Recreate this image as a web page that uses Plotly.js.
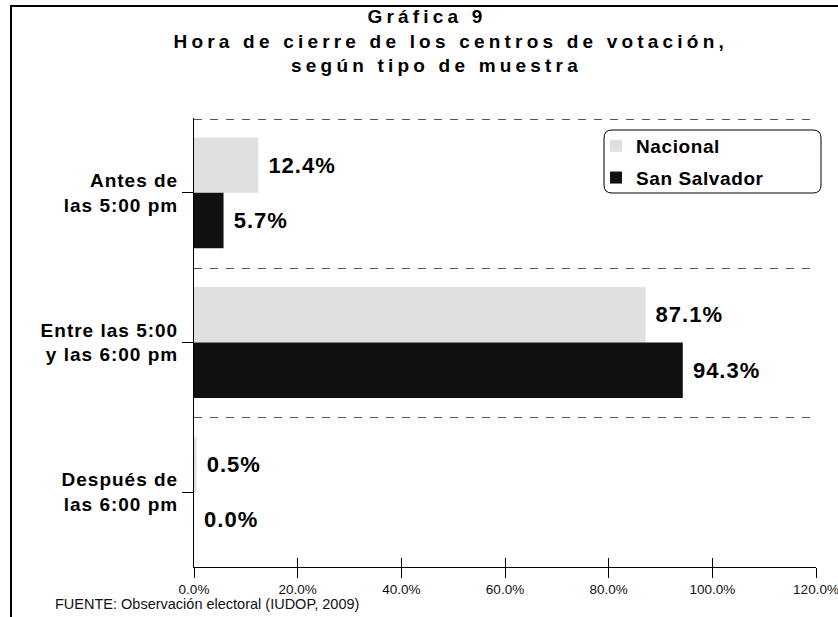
<!DOCTYPE html>
<html>
<head>
<meta charset="utf-8">
<script src="https://cdn.plot.ly/plotly-3.0.1.min.js"></script>
<style>
  html, body { margin: 0; padding: 0; background: #fff; overflow: hidden; }
  #chart { width: 838px; height: 617px; }
  .gtitle { letter-spacing: 4.2px; }
  .ytick text { letter-spacing: 1px; }
  .bartext { letter-spacing: 1px; }
  .legendtext { letter-spacing: 0.6px; }
</style>
</head>
<body>
<div id="chart"></div>
<script>
// ---- data ----
const categories = ['Antes de<br>las 5:00 pm', 'Entre las 5:00<br>y las 6:00 pm', 'Después de<br>las 6:00 pm'];
const nacional = [12.4, 87.1, 0.5];
const sanSalvador = [5.7, 94.3, 0.0];
const seriesNames = ['Nacional', 'San Salvador'];
const xTickValues = [0, 20, 40, 60, 80, 100, 120];
const xTickLabels = ['0.0%', '20.0%', '40.0%', '60.0%', '80.0%', '100.0%', '120.0%'];
const titleLines = ['Gráfica 9\u00a0\u00a0\u00a0\u00a0', '\u00a0Hora de cierre de los centros de votación,', 'según tipo de muestra\u00a0\u00a0'];
const sourceText = 'FUENTE: Observación electoral (IUDOP, 2009)';

const FONT = 'Liberation Sans, Arial, sans-serif';

// plot area in pixels
const L = 194, R = 816, T = 118, B = 567;
const W = R - L, H = B - T;
const px = v => (v - L) / W;
const py = v => (B - v) / H;

function roundRect(x0, y0, x1, y1, r) {
  const X0 = px(x0), X1 = px(x1), Yt = py(y0), Yb = py(y1);
  const rx = r / W, ry = r / H;
  return `M${X0+rx},${Yt} L${X1-rx},${Yt} Q${X1},${Yt} ${X1},${Yt-ry} ` +
         `L${X1},${Yb+ry} Q${X1},${Yb} ${X1-rx},${Yb} L${X0+rx},${Yb} ` +
         `Q${X0},${Yb} ${X0},${Yb+ry} L${X0},${Yt-ry} Q${X0},${Yt} ${X0+rx},${Yt} Z`;
}

const labelFont = {family: FONT, size: 22, color: '#000', weight: 700};

const traces = [
  {
    type: 'bar', orientation: 'h', name: seriesNames[0],
    x: nacional, y: categories,
    marker: {color: '#e0e0e0', line: {width: 0}},
    texttemplate: '\u00a0%{x:.1f}%', textposition: 'outside', textangle: 0,
    textfont: labelFont, cliponaxis: false, constraintext: 'none',
    legendgroup: 'a', hoverinfo: 'skip'
  },
  {
    type: 'bar', orientation: 'h', name: seriesNames[1],
    x: sanSalvador, y: categories,
    marker: {color: '#111111', line: {width: 0}},
    texttemplate: '\u00a0%{x:.1f}%', textposition: 'outside', textangle: 0,
    textfont: labelFont, cliponaxis: false, constraintext: 'none',
    legendgroup: 'b', hoverinfo: 'skip'
  },
  // empty helper traces so the overlay axes (dashed separators, crossing ticks) are built
  {type: 'scatter', mode: 'markers', x: [], y: [], xaxis: 'x', yaxis: 'y2', showlegend: false, hoverinfo: 'skip'},
  {type: 'scatter', mode: 'markers', x: [], y: [], xaxis: 'x2', yaxis: 'y', showlegend: false, hoverinfo: 'skip'}
];

const layout = {
  width: 838, height: 617,
  margin: {l: L, r: 838 - R, t: T, b: 617 - B, pad: 0},
  paper_bgcolor: '#fff', plot_bgcolor: 'rgba(0,0,0,0)',
  font: {family: FONT, color: '#000'},
  title: {
    text: '<b>' + titleLines.join('<br>') + '</b>',
    font: {family: FONT, size: 19, color: '#000', weight: 700},
    x: 446 / 838, xanchor: 'center', xref: 'container',
    y: 1 - 23 / 617, yanchor: 'top', yref: 'container'
  },
  barmode: 'group', bargap: 0.26, bargroupgap: 0,
  showlegend: true,
  legend: {
    x: px(596), xanchor: 'left', y: py(127), yanchor: 'top',
    bgcolor: 'rgba(0,0,0,0)', borderwidth: 0,
    font: {family: FONT, size: 19, color: '#000', weight: 700},
    traceorder: 'grouped', tracegroupgap: 4
  },
  xaxis: {
    range: [0, 120], tickvals: xTickValues, ticktext: xTickLabels,
    ticks: 'outside', ticklen: 10, tickwidth: 1, tickcolor: '#000',
    showline: true, linecolor: '#000', linewidth: 1,
    showgrid: false, zeroline: false, ticklabeloverflow: 'allow',
    tickfont: {family: FONT, size: 13.5, color: '#111'}
  },
  xaxis2: {
    overlaying: 'x', anchor: 'y', range: [0, 120], tickvals: xTickValues,
    ticks: 'inside', ticklen: 9, tickwidth: 1, tickcolor: '#000',
    showticklabels: false, showgrid: false, showline: false, zeroline: false, side: 'bottom'
  },
  yaxis: {
    autorange: 'reversed', type: 'category',
    ticks: 'outside', ticklen: 11, tickwidth: 1, tickcolor: '#000',
    showline: true, linecolor: '#000', linewidth: 1,
    showgrid: false, zeroline: false,
    tickfont: {family: FONT, size: 19, color: '#000', weight: 700}
  },
  yaxis2: {
    overlaying: 'y', anchor: 'x', range: [0, 3.008], tickvals: [1, 2, 3],
    showgrid: true, gridcolor: '#555555', gridwidth: 1, griddash: '8px,8px',
    showticklabels: false, ticks: '', showline: false, zeroline: false
  },
  shapes: [
    {type: 'path', xref: 'paper', yref: 'paper',
     path: `M${px(11)},${py(700)} L${px(11)},${py(6)} L${px(840)},${py(6)}`,
     line: {color: '#000', width: 2}},
    {type: 'path', xref: 'paper', yref: 'paper',
     path: roundRect(604, 130, 821, 193, 8),
     line: {color: '#000', width: 1}, fillcolor: 'rgba(0,0,0,0)'}
  ],
  annotations: [
    {text: sourceText, xref: 'paper', yref: 'paper',
     x: px(53), xanchor: 'left', y: py(604), yanchor: 'middle',
     showarrow: false, font: {family: FONT, size: 14.5, color: '#111'}}
  ]
};

Plotly.newPlot('chart', traces, layout, {displayModeBar: false, staticPlot: true});
</script>
</body>
</html>
